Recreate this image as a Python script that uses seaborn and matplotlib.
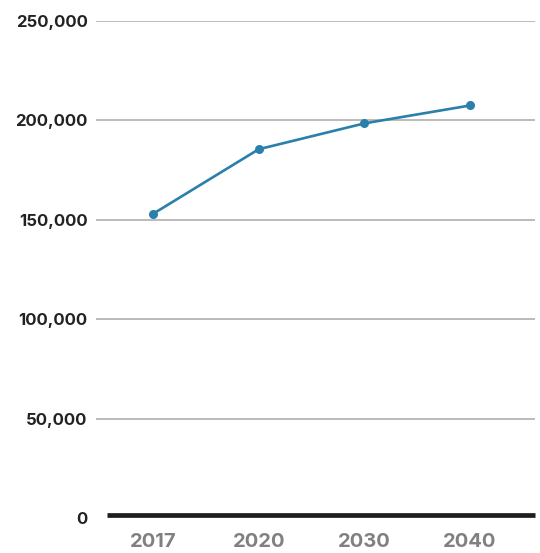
import matplotlib
matplotlib.use("Agg")
import matplotlib.pyplot as plt
import seaborn as sns
import pandas as pd

years = ["2017", "2020", "2030", "2040"]
values = [153000, 185500, 198500, 207500]
y_ticks = [0, 50000, 100000, 150000, 200000, 250000]

sns.set_theme(style="white")
plt.rcParams['font.family'] = ['Inter', 'DejaVu Sans']

df = pd.DataFrame({"year": years, "value": values})

fig = plt.figure(figsize=(5.40, 5.53), dpi=100)
ax = fig.add_axes([96/540, 1-518/553, (535-96)/540, (518-21)/553])

for t in y_ticks[1:]:
    ax.axhline(t, color="#a8a8a8", lw=1.1, zorder=1)
ax.axhline(1500, xmin=11/439, xmax=1, color="#1e1e1e", lw=3.4, zorder=3,
           clip_on=False, solid_capstyle="butt")

sns.lineplot(data=df, x="year", y="value", ax=ax, color="#2a7fab", lw=1.9,
             marker="o", markersize=6.5, markeredgewidth=0, zorder=4)

ax.set_ylim(0, 250000)
ax.set_xlim(-0.54, 3.615)
ax.set_yticks(y_ticks)
ax.set_yticklabels([f"{v:,}" for v in y_ticks])
ax.set_xticks(range(len(years)))
ax.set_xticklabels(years)
ax.set_xlabel("")
ax.set_ylabel("")
for s in ax.spines.values():
    s.set_visible(False)
ax.tick_params(axis="y", length=0, pad=6, labelsize=12, labelcolor="#222222")
ax.tick_params(axis="x", length=0, pad=11, labelsize=14.5, labelcolor="#808080")
for lab in ax.get_yticklabels():
    lab.set_fontweight("bold")
for lab in ax.get_xticklabels():
    lab.set_fontweight("bold")
ax.grid(False)

fig.savefig("out.png", dpi=100)
